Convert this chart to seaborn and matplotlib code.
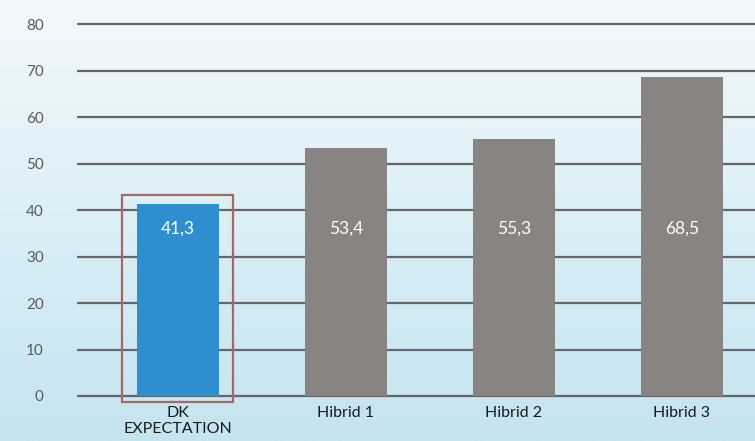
import numpy as np
import pandas as pd
import seaborn as sns
import matplotlib.pyplot as plt
from matplotlib.patches import Rectangle

# -----------------------------
# Data
# -----------------------------
categories = ["DK\nEXPECTATION", "Hibrid 1", "Hibrid 2", "Hibrid 3"]
values = [41.3, 53.4, 55.3, 68.5]
value_labels = ["41,3", "53,4", "55,3", "68,5"]
y_ticks = [0, 10, 20, 30, 40, 50, 60, 70, 80]

bar_colors = ["#2E8ECF", "#888482", "#888482", "#888482"]

df = pd.DataFrame({"category": categories, "value": values})

# -----------------------------
# Figure
# -----------------------------
sns.set_theme(style="white")
plt.rcParams["font.family"] = ["Lato", "DejaVu Sans"]

fig = plt.figure(figsize=(7.55, 4.41), dpi=100)

# background gradient
bg = fig.add_axes([0, 0, 1, 1], zorder=0)
grad = np.linspace(0, 1, 256).reshape(-1, 1)
top = np.array([0xF2, 0xF9, 0xFC]) / 255
bottom = np.array([0xC4, 0xE4, 0xF0]) / 255
img = top + (bottom - top) * grad[:, :, None]
bg.imshow(img, aspect="auto", extent=[0, 1, 0, 1])
bg.axis("off")

ax = fig.add_axes([0.102, 0.0915, 0.898, 0.8646], zorder=1)
ax.patch.set_alpha(0)

sns.barplot(data=df, x="category", y="value", hue="category",
            palette=bar_colors, width=0.49, legend=False, ax=ax,
            saturation=1, linewidth=0, zorder=3)

ax.set_ylim(-1, 81)
ax.set_xlim(-0.6, 3.435)
ax.set_yticks(y_ticks)
ax.yaxis.grid(True, color="#666666", linewidth=1.6, zorder=1)
ax.set_axisbelow(True)
for s in ax.spines.values():
    s.set_visible(False)

ax.set_xlabel("")
ax.set_ylabel("")
ax.tick_params(axis="y", length=0, pad=24, labelsize=11, labelcolor="#5a5a5a")
ax.tick_params(axis="x", length=0, pad=4, labelsize=11.5, labelcolor="#1a1a1a")
for lbl in ax.get_xticklabels():
    lbl.set_linespacing(1.2)

# value labels inside bars
LABEL_Y = 36
for i, txt in enumerate(value_labels):
    ax.text(i, LABEL_Y, txt, ha="center", va="center", color="white",
            fontsize=12.5, zorder=4)

# highlight box around the first bar
rect = Rectangle((-0.33, -1.3), 0.66, values[0] + 3.3, fill=False,
                 edgecolor="#A46A60", linewidth=1.6, clip_on=False, zorder=5)
ax.add_patch(rect)

fig.savefig("out.png", dpi=100)
